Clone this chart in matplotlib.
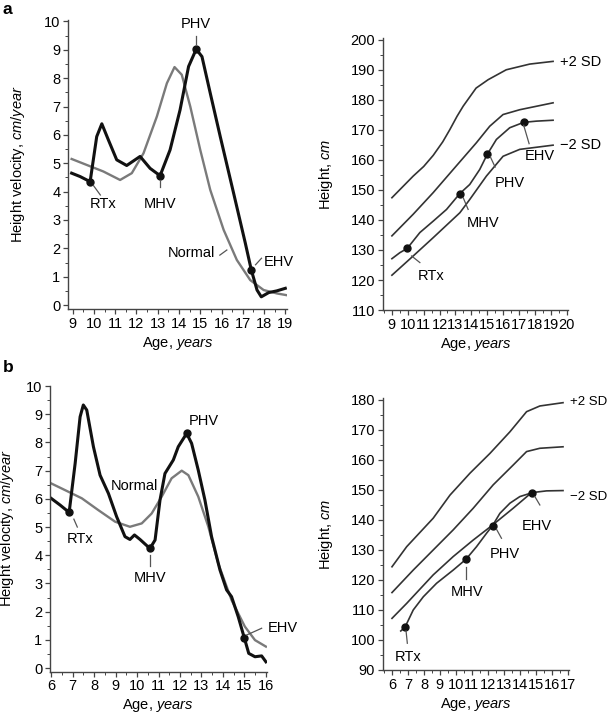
import matplotlib
matplotlib.use("Agg")
import matplotlib.pyplot as plt
from matplotlib.ticker import MultipleLocator

plt.rcParams["font.family"] = ["Liberation Sans", "DejaVu Sans"]
plt.rcParams["font.size"] = 10.5
plt.rcParams["mathtext.fontset"] = "custom"
plt.rcParams["mathtext.rm"] = "Liberation Sans"
plt.rcParams["mathtext.it"] = "Liberation Sans:italic"

AXIS_COLOR = "#444444"
PATIENT_COLOR = "#111111"
NORMAL_COLOR = "#7a7a7a"
CURVE_COLOR = "#333333"

# ---- panel a, height velocity ----
a_vel_age = [8.95, 9.35, 9.82, 10.13, 10.37, 10.68, 11.07, 11.54, 12.17, 12.64,
             13.11, 13.58, 14.05, 14.45, 14.81, 15.08, 15.47, 15.94, 16.57,
             17.12, 17.4, 17.67, 17.87, 18.22, 18.6, 19.0]
a_vel = [4.65, 4.53, 4.35, 5.94, 6.39, 5.82, 5.12, 4.92, 5.24, 4.82,
         4.56, 5.47, 6.88, 8.41, 9.02, 8.76, 7.47, 5.94, 3.94,
         2.18, 1.24, 0.53, 0.29, 0.44, 0.5, 0.59]
a_norm_age = [8.95, 9.66, 10.44, 11.23, 11.78, 12.33, 12.96, 13.43, 13.79, 14.13,
              14.53, 15.0, 15.47, 16.1, 16.72, 17.35, 17.98, 18.6, 19.05]
a_norm = [5.15, 4.94, 4.71, 4.41, 4.65, 5.35, 6.65, 7.82, 8.39, 8.12,
          7.0, 5.47, 4.06, 2.65, 1.59, 0.88, 0.53, 0.41, 0.35]
a_vel_events_age = [9.82, 13.11, 14.81, 17.4]
a_vel_events = [4.35, 4.56, 9.02, 1.24]
# label, text x, text y, leader (x0, y0, x1, y1)
a_vel_labels = [
    ("RTx", 10.44, 3.55, (9.97, 4.22, 10.3, 3.88)),
    ("MHV", 13.11, 3.55, (13.11, 4.4, 13.11, 4.15)),
    ("PHV", 14.81, 9.9, (14.81, 9.5, 14.81, 9.2)),
    ("Normal", 14.6, 1.82, (15.92, 1.76, 16.25, 1.94)),
    ("EHV", 17.98, 1.53, (17.6, 1.42, 17.88, 1.65)),
]

# ---- panel a, height ----
a_ht_age_p2 = [9.0, 10.34, 11.0, 11.6, 12.2, 12.65, 13.1, 13.49, 14.3, 15.06,
               16.2, 17.68, 19.15]
a_ht_p2 = [147.4, 154.6, 157.8, 161.5, 166.0, 170.1, 174.5, 177.9, 183.9, 186.7,
           190.0, 191.9, 192.8]
a_ht_age_mid = [9.0, 10.34, 11.6, 12.86, 14.32, 15.16, 16.0, 17.05, 19.15]
a_ht_mid = [134.7, 141.9, 149.1, 156.8, 165.7, 171.2, 175.1, 176.7, 179.0]
a_ht_age_m2 = [9.0, 10.34, 11.6, 13.28, 13.9, 14.95, 16.0, 17.05, 19.15]
a_ht_m2 = [121.6, 128.0, 134.1, 142.4, 146.8, 154.6, 161.2, 163.5, 164.9]
a_ht_age_pt = [9.0, 9.5, 9.96, 10.76, 11.6, 12.44, 13.28, 13.9, 14.53, 15.0,
               15.58, 16.42, 17.3, 18.1, 19.15]
a_ht_pt = [127.1, 129.1, 130.5, 135.8, 139.6, 143.5, 148.8, 151.8, 156.8, 161.8,
           166.8, 170.7, 172.5, 172.9, 173.2]
a_ht_events_age = [9.96, 13.28, 15.0, 17.3]
a_ht_events = [130.5, 148.8, 161.8, 172.5]
a_ht_labels = [
    ("RTx", 11.5, 121.4, (10.24, 128.0, 10.76, 125.8)),
    ("MHV", 14.74, 139.1, (13.49, 147.4, 13.8, 143.5)),
    ("PHV", 16.42, 152.4, (15.2, 161.0, 15.5, 157.6)),
    ("EHV", 18.3, 161.2, (17.3, 171.5, 17.64, 165.4)),
]
a_sd_labels = [("+2 SD", 19.6, 192.7), ("\u22122 SD", 19.6, 165.1)]

# ---- panel b, height velocity ----
b_vel_age = [6.0, 6.42, 6.84, 7.12, 7.35, 7.5, 7.66, 7.97, 8.28, 8.67, 9.05,
             9.44, 9.67, 9.88, 10.14, 10.6, 10.84, 11.07, 11.3, 11.69, 11.92,
             12.31, 12.54, 12.85, 13.16, 13.47, 13.86, 14.17, 14.4, 14.71,
             14.99, 15.2, 15.49, 15.8, 16.0]
b_vel = [6.02, 5.78, 5.52, 7.26, 8.91, 9.33, 9.15, 7.85, 6.84, 6.19, 5.37,
         4.66, 4.56, 4.72, 4.56, 4.24, 4.54, 5.96, 6.9, 7.38, 7.85,
         8.32, 7.97, 7.02, 5.96, 4.66, 3.48, 2.77, 2.53, 1.82,
         1.08, 0.52, 0.4, 0.43, 0.22]
b_norm_age = [6.0, 6.65, 7.43, 8.2, 8.98, 9.67, 10.22, 10.68, 11.15, 11.61,
              12.08, 12.39, 12.85, 13.32, 13.78, 14.4, 15.02, 15.49, 16.0]
b_norm = [6.55, 6.31, 6.02, 5.6, 5.19, 5.01, 5.13, 5.48, 6.08, 6.73,
          7.0, 6.84, 6.08, 5.01, 3.71, 2.41, 1.47, 0.99, 0.76]
b_vel_events_age = [6.84, 10.6, 12.31, 14.99]
b_vel_events = [5.52, 4.24, 8.32, 1.08]
b_vel_labels = [
    ("RTx", 7.35, 4.56, (7.06, 5.28, 7.22, 5.0)),
    ("MHV", 10.6, 3.18, (10.6, 4.0, 10.6, 3.62)),
    ("PHV", 13.1, 8.75, None),
    ("Normal", 9.9, 6.45, None),
]
b_ehv_label = ("EHV", 16.08, 1.42, (15.1, 1.17, 15.8, 1.41))

# ---- panel b, height ----
b_ht_age_p2 = [6.0, 6.92, 8.58, 9.63, 10.88, 12.13, 13.38, 14.42, 15.25, 16.7]
b_ht_p2 = [124.4, 131.1, 140.6, 148.3, 155.6, 162.2, 169.4, 176.1, 178.0, 179.1]
b_ht_age_mid = [6.0, 7.33, 8.58, 9.83, 11.08, 12.33, 13.58, 14.42, 15.25, 16.7]
b_ht_mid = [115.8, 123.3, 130.0, 136.7, 143.9, 151.7, 158.3, 162.8, 163.9, 164.4]
b_ht_age_m2 = [6.0, 6.92, 8.58, 9.83, 11.08, 12.29, 13.58, 14.73, 15.67, 16.7]
b_ht_m2 = [107.2, 112.2, 121.7, 127.8, 133.3, 138.3, 143.9, 149.1, 149.7, 149.8]
b_ht_age_pt = [6.55, 6.81, 7.33, 7.96, 8.79, 9.83, 10.63, 11.29, 11.92, 12.29,
               12.75, 13.38, 14.0, 14.77]
b_ht_pt = [103.0, 104.2, 110.0, 114.4, 118.9, 123.3, 126.9, 131.1, 135.6, 138.1,
           142.2, 145.6, 147.8, 149.1]
b_ht_events_age = [6.81, 10.63, 12.29, 14.77]
b_ht_events = [104.2, 126.9, 138.1, 149.1]
b_ht_labels = [
    ("RTx", 7.02, 94.4, (6.88, 103.0, 6.96, 98.9)),
    ("MHV", 10.67, 116.1, (10.63, 124.4, 10.63, 120.2)),
    ("PHV", 13.06, 128.7, (12.54, 136.9, 12.85, 133.9)),
    ("EHV", 15.04, 138.0, (14.94, 147.8, 15.25, 145.0)),
]
b_sd_labels = [("+2 SD", 17.15, 179.3), ("\u22122 SD", 17.15, 147.5)]


def style_axes(ax, xlim, ylim, xticks, ymajor, yminor, label_x):
    ax.set_xlim(*xlim)
    ax.set_ylim(*ylim)
    for side in ("top", "right"):
        ax.spines[side].set_visible(False)
    for side in ("left", "bottom"):
        ax.spines[side].set_color(AXIS_COLOR)
        ax.spines[side].set_linewidth(1.0)
    ax.set_xticks(xticks)
    ax.xaxis.set_minor_locator(MultipleLocator(0.5))
    ax.yaxis.set_major_locator(MultipleLocator(ymajor))
    ax.yaxis.set_minor_locator(MultipleLocator(yminor))
    ax.tick_params(which="major", length=3.5, width=0.9, color=AXIS_COLOR, pad=2)
    ax.tick_params(which="minor", length=2, width=0.7, color=AXIS_COLOR)
    ax.set_xlabel("Age, $\\it{years}$", labelpad=3)
    ax.yaxis.set_label_coords(label_x, 0.5)


def add_labels(ax, labels):
    for text, tx, ty, leader in labels:
        ax.text(tx, ty, text, ha="center", va="center")
        if leader is not None:
            ax.plot(leader[0::2], leader[1::2], color="#555555", lw=0.9)


fig = plt.figure(figsize=(6.1, 7.19), dpi=100)

# panel a, velocity
ax = fig.add_axes([0.1115, 0.5702, 0.359, 0.402])
ax.plot(a_norm_age, a_norm, color=NORMAL_COLOR, lw=1.7, solid_joinstyle="round")
ax.plot(a_vel_age, a_vel, color=PATIENT_COLOR, lw=2.2, solid_joinstyle="round")
ax.plot(a_vel_events_age, a_vel_events, "o", color=PATIENT_COLOR, ms=5)
add_labels(ax, a_vel_labels[:-1])
text, tx, ty, leader = a_vel_labels[-1]
ax.text(tx, ty, text, ha="left", va="center", clip_on=False)
ax.plot(leader[0::2], leader[1::2], color="#555555", lw=0.9)
style_axes(ax, (8.78, 19.08), (-0.14, 10.05), range(9, 20), 1, 0.5, -0.187)
ax.set_ylabel("Height velocity, $\\it{cm/year}$")

# panel a, height
ax = fig.add_axes([0.6274, 0.5688, 0.304, 0.378])
for ages, vals in [(a_ht_age_p2, a_ht_p2), (a_ht_age_mid, a_ht_mid),
                   (a_ht_age_m2, a_ht_m2), (a_ht_age_pt, a_ht_pt)]:
    ax.plot(ages, vals, color=CURVE_COLOR, lw=1.2)
ax.plot(a_ht_events_age, a_ht_events, "o", color=PATIENT_COLOR, ms=5)
add_labels(ax, a_ht_labels)
for text, tx, ty in a_sd_labels:
    ax.text(tx, ty, text, ha="left", va="center", clip_on=False)
style_axes(ax, (8.42, 20.1), (110, 200.5), range(9, 21), 10, 5, -0.257)
ax.set_ylabel("Height, $\\it{cm}$")

# panel b, velocity
ax = fig.add_axes([0.082, 0.0658, 0.355, 0.398])
ax.plot(b_norm_age, b_norm, color=NORMAL_COLOR, lw=1.7, solid_joinstyle="round")
ax.plot(b_vel_age, b_vel, color=PATIENT_COLOR, lw=2.2, solid_joinstyle="round")
ax.plot(b_vel_events_age, b_vel_events, "o", color=PATIENT_COLOR, ms=5)
add_labels(ax, b_vel_labels)
text, tx, ty, leader = b_ehv_label
ax.text(tx, ty, text, ha="left", va="center", clip_on=False)
ax.plot(leader[0::2], leader[1::2], color="#555555", lw=0.9)
style_axes(ax, (5.95, 16.03), (-0.13, 10.02), range(6, 17), 1, 0.5, -0.155)
ax.set_ylabel("Height velocity, $\\it{cm/year}$")

# panel b, height
ax = fig.add_axes([0.6274, 0.0682, 0.305, 0.378])
for ages, vals in [(b_ht_age_p2, b_ht_p2), (b_ht_age_mid, b_ht_mid),
                   (b_ht_age_m2, b_ht_m2), (b_ht_age_pt, b_ht_pt)]:
    ax.plot(ages, vals, color=CURVE_COLOR, lw=1.2)
ax.plot(b_ht_events_age, b_ht_events, "o", color=PATIENT_COLOR, ms=5)
add_labels(ax, b_ht_labels)
for text, tx, ty in b_sd_labels:
    ax.text(tx, ty, text, ha="left", va="center", clip_on=False, fontsize=9.5)
style_axes(ax, (5.42, 17.06), (90, 180.6), range(6, 18), 10, 5, -0.257)
ax.set_ylabel("Height, $\\it{cm}$")

fig.text(0.004, 0.997, "a", fontsize=12.5, fontweight="bold", va="top")
fig.text(0.004, 0.499, "b", fontsize=12.5, fontweight="bold", va="top")

fig.savefig("out.png", dpi=100)
